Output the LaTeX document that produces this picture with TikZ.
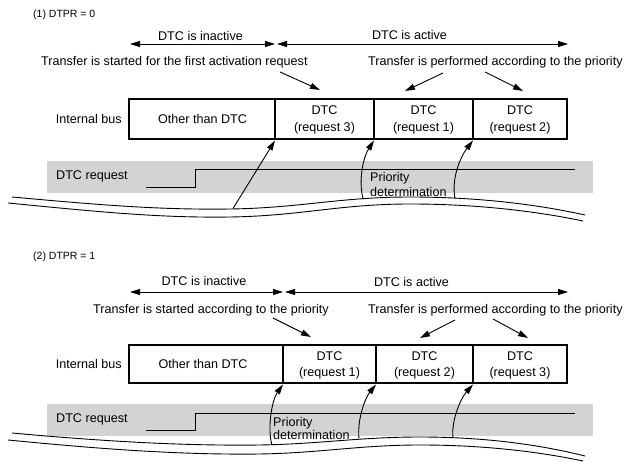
\documentclass[tikz,border=0pt]{standalone}
\usepackage{fontspec}
\setmainfont{Liberation Sans}
\usetikzlibrary{arrows.meta}
\definecolor{bandgray}{RGB}{211,211,211}
\begin{document}
\begin{tikzpicture}[x=1pt,y=-1pt,
  txt/.style={inner sep=0pt, font=\fontsize{12.6}{15}\selectfont},
  small/.style={inner sep=0pt, font=\fontsize{10.5}{12}\selectfont},
  cell/.style={draw, line width=1.8pt, inner sep=0pt, outer sep=0pt},
  arr/.style={line width=0.9pt, -{Triangle[length=10pt,width=6pt]}},
  darr/.style={line width=0.9pt, {Triangle[length=10pt,width=6pt]}-{Triangle[length=10pt,width=6pt]}},
  wave/.style={line width=0.9pt},
  band/.style={fill=bandgray, draw=none},
  sig/.style={line width=0.9pt},
]
\useasboundingbox (0,0) rectangle (635,462);

% ================= Panel 1 =================
\node[small, anchor=base west] (p1lab) at (33,17.5) {(1) DTPR = 0};
\node[txt, anchor=base] (p1inact) at (200.5,40.5) {DTC is inactive};
\node[txt, anchor=base] (p1act) at (409.5,40) {DTC is active};
\coordinate (p1a0) at (130,44);
\coordinate (p1a1) at (275,44);
\coordinate (p1a2) at (277,44);
\coordinate (p1a3) at (568,44);
\draw[darr] (p1a0) -- (p1a1);
\draw[darr] (p1a2) -- (p1a3);
\node[txt, anchor=base west] (p1start) at (41,66) {Transfer is started for the first activation request};
\node[txt, anchor=base west] (p1perf) at (368,66) {Transfer is performed according to the priority};
\coordinate (p1s0) at (280,72); \coordinate (p1s1) at (320,90);
\coordinate (p1q0) at (443,73); \coordinate (p1q1) at (405,91);
\coordinate (p1r0) at (485,72); \coordinate (p1r1) at (523,91);
\draw[arr] (p1s0) -- (p1s1);
\draw[arr] (p1q0) -- (p1q1);
\draw[arr] (p1r0) -- (p1r1);

% bus
\node[cell, minimum width=146pt, minimum height=40pt] (p1c1) at (202,119) {};
\node[cell, minimum width=99pt, minimum height=40pt] (p1c2) at (324.5,119) {};
\node[cell, minimum width=99pt, minimum height=40pt] (p1c3) at (423.5,119) {};
\node[cell, minimum width=94pt, minimum height=40pt] (p1c4) at (520,119) {};
\node[txt, anchor=base east] (p1bus) at (122,124) {Internal bus};
\node[txt, anchor=base] (p1other) at (202.5,124) {Other than DTC};
\node[txt, anchor=base] (p1d2) at (324.5,115) {DTC};
\node[txt, anchor=base] (p1r2) at (324.5,131.5) {(request 3)};
\node[txt, anchor=base] (p1d3) at (423.5,115) {DTC};
\node[txt, anchor=base] (p1r3) at (423.5,131.5) {(request 1)};
\node[txt, anchor=base] (p1d4) at (520,115) {DTC};
\node[txt, anchor=base] (p1r4) at (520,131.5) {(request 2)};

% request band
\fill[band] (47,161) rectangle (593,193);
\node[txt, anchor=base west] (p1req) at (56,180) {DTC request};
\draw[sig] (146,187) -- (195,187) -- (195,169) -- (575,169);
\node[txt, anchor=base west] (p1prio) at (370,181.5) {Priority};
\node[txt, anchor=base west] (p1det) at (370,196.5) {determination};

% waves
\draw[wave] (12,197) .. controls (100,205) and (160,210) .. (230,209)
  .. controls (300,208) and (340,197) .. (410,197)
  .. controls (480,197) and (540,205) .. (585,215);
\draw[wave] (8,203) .. controls (100,212) and (160,218) .. (230,217)
  .. controls (300,216) and (340,204) .. (410,204)
  .. controls (480,204) and (540,212) .. (583,221);

% arrows to bus
\coordinate (p1b1) at (233,208.5);
\coordinate (p1b2) at (363,199);
\coordinate (p1b3) at (455,198.5);
\draw[arr] (p1b1) -- ([yshift=-1.5pt]p1c2.south west);
\draw[arr] (p1b2) .. controls (358,178) and (364,156) .. ([yshift=-1.5pt]p1c3.south west);
\draw[arr] (p1b3) .. controls (451,178) and (461,156) .. ([yshift=-1.5pt]p1c4.south west);

% ================= Panel 2 =================
\node[small, anchor=base west] (p2lab) at (33,260) {(2) DTPR = 1};
\node[txt, anchor=base] (p2inact) at (204,286) {DTC is inactive};
\node[txt, anchor=base] (p2act) at (411.5,286.5) {DTC is active};
\coordinate (p2a0) at (130,292);
\coordinate (p2a1) at (283,292);
\coordinate (p2a2) at (285,292);
\coordinate (p2a3) at (568,292);
\draw[darr] (p2a0) -- (p2a1);
\draw[darr] (p2a2) -- (p2a3);
\node[txt, anchor=base west] (p2start) at (93,314) {Transfer is started according to the priority};
\node[txt, anchor=base west] (p2perf) at (368,314) {Transfer is performed according to the priority};
\coordinate (p2s0) at (273,318); \coordinate (p2s1) at (311,337);
\coordinate (p2q0) at (455,320); \coordinate (p2q1) at (420,338);
\coordinate (p2r0) at (493,319); \coordinate (p2r1) at (528,338);
\draw[arr] (p2s0) -- (p2s1);
\draw[arr] (p2q0) -- (p2q1);
\draw[arr] (p2r0) -- (p2r1);

% bus
\node[cell, minimum width=154pt, minimum height=38pt] (p2c1) at (206,364) {};
\node[cell, minimum width=93pt, minimum height=38pt] (p2c2) at (329.5,364) {};
\node[cell, minimum width=97pt, minimum height=38pt] (p2c3) at (424.5,364) {};
\node[cell, minimum width=94pt, minimum height=38pt] (p2c4) at (520,364) {};
\node[txt, anchor=base east] (p2bus) at (122,369) {Internal bus};
\node[txt, anchor=base] (p2other) at (203,369) {Other than DTC};
\node[txt, anchor=base] (p2d2) at (329.5,361) {DTC};
\node[txt, anchor=base] (p2r2) at (329.5,376.5) {(request 1)};
\node[txt, anchor=base] (p2d3) at (424.5,361) {DTC};
\node[txt, anchor=base] (p2r3) at (424.5,376.5) {(request 2)};
\node[txt, anchor=base] (p2d4) at (520,361) {DTC};
\node[txt, anchor=base] (p2r4) at (520,376.5) {(request 3)};

% request band
\fill[band] (47,404) rectangle (593,436);
\node[txt, anchor=base west] (p2req) at (56,423) {DTC request};
\draw[sig] (146,430) -- (195,430) -- (195,413) -- (575,413);
\node[txt, anchor=base west] (p2prio) at (273,426.5) {Priority};
\node[txt, anchor=base west] (p2det) at (273,439) {determination};

% waves
\draw[wave] (12,433) .. controls (100,441) and (180,446) .. (260,445)
  .. controls (320,444) and (360,437) .. (420,437)
  .. controls (490,437) and (545,446) .. (585,456);
\draw[wave] (8,440) .. controls (100,449) and (180,455) .. (260,454)
  .. controls (320,453) and (360,445) .. (420,445)
  .. controls (490,445) and (545,453) .. (583,461);

% arrows to bus
\coordinate (p2b1) at (272,445);
\coordinate (p2b2) at (359,438.5);
\coordinate (p2b3) at (453,438);
\draw[arr] (p2b1) .. controls (267,428) and (272,400) .. ([yshift=-1.5pt]p2c2.south west);
\draw[arr] (p2b2) .. controls (357,420) and (365,398) .. ([yshift=-1.5pt]p2c3.south west);
\draw[arr] (p2b3) .. controls (451,420) and (461,398) .. ([yshift=-1.5pt]p2c4.south west);
\end{tikzpicture}
\end{document}
